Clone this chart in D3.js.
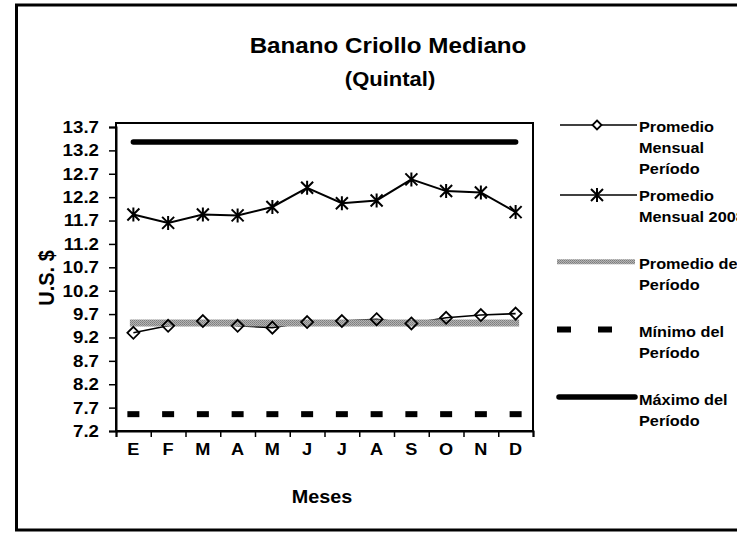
<!DOCTYPE html>
<html>
<head>
<meta charset="utf-8">
<script src="https://cdn.jsdelivr.net/npm/d3@7"></script>
<style>
  body { margin: 0; background: #fff; }
  text { font-family: "Liberation Sans", Arial, sans-serif; font-weight: bold; fill: #000; }
</style>
</head>
<body>
<svg id="chart" width="737" height="533"></svg>
<script>
// values (US$ per quintal)
const months = ["E", "F", "M", "A", "M", "J", "J", "A", "S", "O", "N", "D"];
const promedioMensualPeriodo = [9.30, 9.45, 9.55, 9.45, 9.41, 9.53, 9.55, 9.59, 9.50, 9.62, 9.68, 9.71];
const promedioMensual2008 = [11.83, 11.65, 11.83, 11.81, 11.99, 12.40, 12.07, 12.13, 12.58, 12.33, 12.30, 11.88];
const promedioPeriodo = 9.51;
const minimoPeriodo = 7.56;
const maximoPeriodo = 13.38;
const yTicks = [7.2, 7.7, 8.2, 8.7, 9.2, 9.7, 10.2, 10.7, 11.2, 11.7, 12.2, 12.7, 13.2, 13.7];

const svg = d3.select("#chart");
const stretch = "scale(1.1,1)";

const plot = { left: 116, right: 533, top: 123, bottom: 431 };

const defs = svg.append("defs");
const pat = defs.append("pattern")
  .attr("id", "stipple")
  .attr("patternUnits", "userSpaceOnUse")
  .attr("width", 2).attr("height", 2);
pat.append("rect").attr("width", 2).attr("height", 2).attr("fill", "#b4b4b4");
pat.append("rect").attr("width", 1).attr("height", 1).attr("fill", "#7c7c7c");
pat.append("rect").attr("x", 1).attr("y", 1).attr("width", 1).attr("height", 1).attr("fill", "#8a8a8a");

// outer chart frame (cut off at the right)
svg.append("rect")
  .attr("x", 16.5).attr("y", 5)
  .attr("width", 760).attr("height", 525)
  .attr("fill", "#fff")
  .attr("stroke", "#000")
  .attr("stroke-width", 3);

const label = (x, y, s, size, anchor = "middle") =>
  svg.append("text")
    .attr("transform", `translate(${x},${y}) ${stretch}`)
    .attr("text-anchor", anchor)
    .style("font-size", size + "px")
    .text(s);

label(388, 53, "Banano Criollo Mediano", 22);
label(390, 86, "(Quintal)", 20);

const x = d3.scaleBand().domain(d3.range(months.length)).range([plot.left, plot.right]);
const xEdge = d3.scaleLinear().domain([0, months.length]).range([plot.left, plot.right]);
const y = d3.scaleLinear().domain([7.2, 13.7]).range([plot.bottom, plot.top + 4]);
const cx = (i) => x(i) + x.bandwidth() / 2;

// plot frame
svg.append("rect")
  .attr("x", plot.left).attr("y", plot.top)
  .attr("width", plot.right - plot.left).attr("height", plot.bottom - plot.top)
  .attr("fill", "none").attr("stroke", "#000").attr("stroke-width", 2);

// y axis
const yAxis = svg.append("g")
  .attr("transform", `translate(${plot.left},0)`)
  .call(d3.axisLeft(y).tickValues(yTicks).tickFormat(d3.format(".1f")).tickSize(7).tickPadding(8));
yAxis.select(".domain").attr("stroke-width", 2);
yAxis.selectAll(".tick line").attr("stroke-width", 1.5);
yAxis.selectAll("text")
  .attr("x", null)
  .attr("transform", `translate(-17,0) ${stretch}`)
  .style("font-size", "17px").style("font-family", null);

// x axis: ticks on category edges, labels in the middle
const xTicks = svg.append("g")
  .attr("transform", `translate(0,${plot.bottom})`)
  .call(d3.axisBottom(xEdge).ticks(12).tickSize(6).tickFormat(""));
xTicks.select(".domain").attr("stroke-width", 2);
xTicks.selectAll(".tick line").attr("stroke-width", 1.5);

const xLabels = svg.append("g")
  .attr("transform", `translate(0,${plot.bottom})`)
  .call(d3.axisBottom(x).tickSize(0).tickPadding(24).tickFormat((i) => months[i]));
xLabels.select(".domain").remove();
xLabels.selectAll("text")
  .attr("dy", null)
  .attr("transform", stretch)
  .style("font-size", "16.5px").style("font-family", null);

label(322, 503, "Meses", 18);

svg.append("text")
  .attr("transform", `translate(54,278) rotate(-90) scale(1,1.1)`)
  .attr("text-anchor", "middle")
  .style("font-size", "20px")
  .text("U.S. $");

const idx = d3.range(months.length);
const line = (vals) => d3.line().x((d, i) => cx(i)).y((d) => y(d))(vals);

// promedio mensual periodo line (under the band)
svg.append("path")
  .attr("d", line(promedioMensualPeriodo))
  .attr("fill", "none").attr("stroke", "#000").attr("stroke-width", 1.6);

// promedio del periodo band
svg.append("line")
  .attr("x1", cx(0)).attr("x2", cx(11))
  .attr("y1", y(promedioPeriodo)).attr("y2", y(promedioPeriodo))
  .attr("stroke", "url(#stipple)").attr("stroke-width", 7)
  .attr("stroke-linecap", "square");

// maximo del periodo
svg.append("line")
  .attr("x1", cx(0)).attr("x2", cx(11))
  .attr("y1", y(maximoPeriodo)).attr("y2", y(maximoPeriodo))
  .attr("stroke", "#000").attr("stroke-width", 5.5)
  .attr("stroke-linecap", "round");

// minimo del periodo (dash markers)
svg.append("g").selectAll("rect")
  .data(idx)
  .join("rect")
  .attr("x", (i) => cx(i) - 6).attr("y", y(minimoPeriodo) - 3)
  .attr("width", 12).attr("height", 6)
  .attr("fill", "#000");

const diamond = "M0,-6L6,0L0,6L-6,0Z";
const asterisk = "M0,-7V7M-6,-6L6,6M-6,6L6,-6";

svg.append("g").selectAll("path")
  .data(promedioMensualPeriodo)
  .join("path")
  .attr("transform", (d, i) => `translate(${cx(i)},${y(d)})`)
  .attr("d", diamond)
  .attr("fill", "none").attr("stroke", "#000").attr("stroke-width", 1.8);

svg.append("path")
  .attr("d", line(promedioMensual2008))
  .attr("fill", "none").attr("stroke", "#000").attr("stroke-width", 2);

svg.append("g").selectAll("path")
  .data(promedioMensual2008)
  .join("path")
  .attr("transform", (d, i) => `translate(${cx(i)},${y(d)})`)
  .attr("d", asterisk)
  .attr("fill", "none").attr("stroke", "#000").attr("stroke-width", 2);

// legend
const lg = svg.append("g");
const lx0 = 557, lx1 = 637, tx = 639;

lg.append("line").attr("x1", 560).attr("x2", lx1).attr("y1", 125).attr("y2", 125)
  .attr("stroke", "#000").attr("stroke-width", 1.6);
lg.append("path").attr("transform", "translate(597,125) scale(0.75)").attr("d", diamond)
  .attr("fill", "#fff").attr("stroke", "#000").attr("stroke-width", 2.4);

lg.append("line").attr("x1", 560).attr("x2", lx1).attr("y1", 195).attr("y2", 195)
  .attr("stroke", "#000").attr("stroke-width", 1.6);
lg.append("path").attr("transform", "translate(597,195)").attr("d", asterisk)
  .attr("fill", "none").attr("stroke", "#000").attr("stroke-width", 2);

lg.append("line").attr("x1", lx0).attr("x2", 635).attr("y1", 261.7).attr("y2", 261.7)
  .attr("stroke", "url(#stipple)").attr("stroke-width", 5);

lg.selectAll("rect.dash").data([557, 598]).join("rect")
  .attr("class", "dash")
  .attr("x", (d) => d).attr("y", 326.5).attr("width", 14).attr("height", 6)
  .attr("fill", "#000");

lg.append("line").attr("x1", 559).attr("x2", 635).attr("y1", 397).attr("y2", 397)
  .attr("stroke", "#000").attr("stroke-width", 5.5).attr("stroke-linecap", "round");

const legendText = [
  ["Promedio", 126.7], ["Mensual", 147.5], ["Período", 168.3],
  ["Promedio", 196], ["Mensual 2008", 216.7],
  ["Promedio del", 264], ["Período", 285],
  ["Mínimo del", 332], ["Período", 353],
  ["Máximo del", 400], ["Período", 421]
];
legendText.forEach(([s, cy]) => label(tx, cy + 5.2, s, 14.8, "start"));
</script>
</body>
</html>
